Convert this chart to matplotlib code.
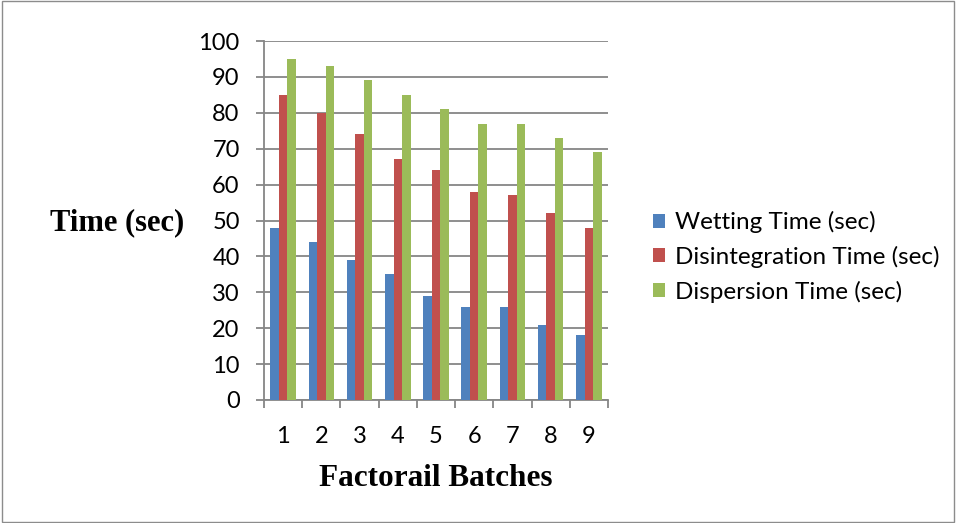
import matplotlib
matplotlib.use("Agg")
import matplotlib.pyplot as plt
import numpy as np
from matplotlib.patches import Rectangle

# dados
batches = ["1", "2", "3", "4", "5", "6", "7", "8", "9"]
wetting = [48, 44, 39, 35, 29, 26, 26, 21, 18]
disintegration = [85, 80, 74, 67, 64, 58, 57, 52, 48]
dispersion = [95, 93, 89, 85, 81, 77, 77, 73, 69]
series_names = ["Wetting Time (sec)", "Disintegration Time (sec)", "Dispersion Time (sec)"]
colors = ["#4F81BD", "#C0504D", "#9BBB59"]

fig = plt.figure(figsize=(9.56, 5.23), dpi=100)
ax = fig.add_axes([264 / 956, 1 - 400 / 523, 344 / 956, 359 / 523])

x = np.arange(1, len(batches) + 1)
w = 1 / 4.5
for i, (vals, name, c) in enumerate(zip([wetting, disintegration, dispersion], series_names, colors)):
    ax.bar(x + (i - 1) * w, vals, width=w, color=c, label=name, zorder=3)

ax.set_xlim(0.5, len(batches) + 0.5)
ax.set_ylim(0, 100)
ax.set_yticks(range(0, 101, 10))
ax.set_xticks(x)
ax.set_xticklabels(batches)
ax.set_xticks(np.arange(0.5, len(batches) + 1, 1), minor=True)

grid_c = "#868686"
ax.grid(axis="y", color=grid_c, linewidth=1.3, zorder=0)
for s in ["top", "right"]:
    ax.spines[s].set_visible(False)
ax.spines["left"].set_color(grid_c)
ax.spines["bottom"].set_color(grid_c)
ax.spines["left"].set_linewidth(1.3)
ax.spines["bottom"].set_linewidth(1.3)
ax.tick_params(axis="y", length=5.5, color=grid_c, width=1.3, labelsize=17, pad=12)
ax.tick_params(axis="x", which="major", length=0, labelsize=17, pad=19)
ax.tick_params(axis="x", which="minor", length=6, color=grid_c, width=1.3)
for lbl in ax.get_xticklabels() + ax.get_yticklabels():
    lbl.set_fontfamily("Lato")

fig.text(117 / 956, 1 - 223 / 523, "Time (sec)", fontsize=22, fontweight="bold",
         family="Liberation Serif", ha="center", va="center")
fig.text(436 / 956, 1 - 478 / 523, "Factorail Batches", fontsize=22.5, fontweight="bold",
         family="Liberation Serif", ha="center", va="center")

leg = fig.legend(loc="center left", bbox_to_anchor=(631 / 956, 1 - 257 / 523),
                 frameon=False, prop={"family": "Lato", "size": 17.5},
                 handlelength=0.5, handleheight=0.5, handletextpad=0.4, labelspacing=0.52)

# borda em volta da figura
fig.patches.append(Rectangle((0.002, 0.002), 0.996, 0.996, transform=fig.transFigure,
                             fill=False, edgecolor="#8c8c8c", linewidth=1))

fig.savefig("out.png", dpi=100)
